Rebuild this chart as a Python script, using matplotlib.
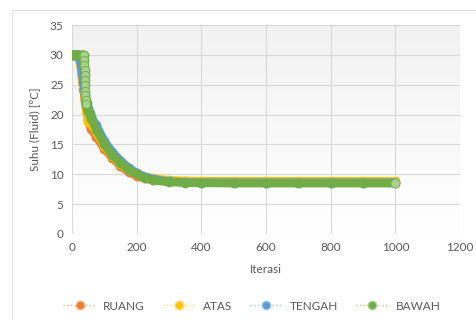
import numpy as np
import matplotlib
matplotlib.use("Agg")
import matplotlib.pyplot as plt
from matplotlib.patches import Rectangle

# iterations
iter_main = [0, 10, 20, 25, 30, 35, 40, 45, 50, 55, 60, 75, 100, 125, 150, 175, 200,
             225, 250, 300, 350, 400, 500, 600, 700, 800, 900, 1000]

ruang = [30, 30, 30, 28.8, 26.5, 24.3, 22.3, 20.5, 19.1, 18.3, 17.6, 16.3, 14.3, 12.7, 11.4,
         10.4, 9.7, 9.3, 9.0, 8.8, 8.75, 8.7, 8.7, 8.7, 8.7, 8.7, 8.7, 8.7]
atas = [30, 30, 30, 29.0, 27.0, 25.0, 22.8, 20.3, 18.8, 18.6, 18.4, 17.0, 14.8, 13.0, 11.7,
        10.7, 10.1, 9.6, 9.3, 9.0, 8.9, 8.85, 8.85, 8.85, 8.85, 8.85, 8.85, 8.85]
tengah = [30, 30, 30, 29.2, 27.5, 25.5, 23.5, 22.0, 21.1, 20.3, 19.6, 18.2, 15.6, 13.7, 12.3,
          11.1, 10.2, 9.6, 9.2, 8.8, 8.65, 8.6, 8.6, 8.6, 8.6, 8.6, 8.6, 8.6]

iter_bawah = [0, 5, 10, 15, 20, 25, 30, 35, 37, 38, 38.5, 39, 39.5, 40, 40.5, 41, 41.5, 42, 43,
              45, 50, 55, 60, 75, 100, 125, 150, 175, 200, 225, 250, 300, 350, 400, 500,
              600, 700, 800, 900, 1000]
bawah = [30, 30, 30, 30, 30, 30, 30, 30, 30, 29.2, 28.3, 27.5, 26.6, 25.8, 24.9, 24.0, 23.2,
         22.4, 21.7, 21.3, 20.6, 19.9, 19.3, 17.5, 15.0, 13.2, 11.9, 10.8, 10.0, 9.4, 9.0,
         8.7, 8.6, 8.55, 8.5, 8.5, 8.5, 8.5, 8.5, 8.5]

names = ["RUANG", "ATAS", "TENGAH", "BAWAH"]
colors = ["#ED7D31", "#FFC000", "#5B9BD5", "#70AD47"]
lights = ["#F4B183", "#FFD966", "#9DC3E6", "#A9D18E"]

plt.rcParams['font.family'] = ['Lato', 'DejaVu Sans']

fig = plt.figure(figsize=(4.77, 3.2), dpi=100)
ax = fig.add_axes([72/477, 1 - 234/320, 388/477, 209/320])

# chart frame
fig.patches.append(Rectangle((12/477, -0.1), 1.2, 1 - 10/320 + 0.1, transform=fig.transFigure,
                             fill=False, edgecolor="#e3e3e3", linewidth=0.8))

# soft gradient in the plot area
grad = np.linspace(1, 0, 100).reshape(-1, 1)
ax.imshow(grad, extent=[0, 1, 0, 1], transform=ax.transAxes, aspect='auto',
          cmap=matplotlib.colors.LinearSegmentedColormap.from_list("g", ["#ffffff", "#f2f2f2"]),
          zorder=0)

series = [(iter_main, ruang), (iter_main, atas), (iter_main, tengah), (iter_bawah, bawah)]
for (xs, ys), name, c, lc in zip(series, names, colors, lights):
    ax.plot(xs, ys, color=c, linewidth=6, solid_capstyle='round', solid_joinstyle='round',
            marker='o', markersize=6, markerfacecolor=c, markeredgecolor=c, zorder=2)

# the green points of the sharp drop show as separate, paler circles
xs, ys = np.array(iter_bawah), np.array(bawah)
drop = (xs >= 35) & (xs <= 43)
ax.plot(xs[drop], ys[drop], linestyle='none', marker='o', markersize=6,
        markerfacecolor=lights[3], markeredgecolor=colors[3], markeredgewidth=0.6, zorder=3)
ax.plot(xs[-1:], ys[-1:], linestyle='none', marker='o', markersize=5,
        markerfacecolor=lights[3], markeredgecolor=lights[3], zorder=3)

ax.set_xlim(0, 1200)
ax.set_ylim(0, 35)
ax.set_xticks(range(0, 1201, 200))
ax.set_yticks(range(0, 36, 5))
ax.grid(True, color="#d9d9d9", linewidth=0.8)
ax.set_axisbelow(True)
for s in ax.spines.values():
    s.set_visible(False)
ax.tick_params(length=0, labelsize=8.5, labelcolor="#595959", pad=6)
ax.set_xlabel("Iterasi", fontsize=8.5, color="#595959", labelpad=8)
ax.set_ylabel("Suhu (Fluid) [°C]", fontsize=8.5, color="#595959", labelpad=7)

handles = [plt.Line2D([], [], color=lc, linestyle=':', linewidth=1.0, marker='o', markersize=6,
                      markerfacecolor=c, markeredgecolor=lc) for c, lc in zip(colors, lights)]
fig.legend(handles, names, loc='center', bbox_to_anchor=(252/477, 1 - 306/320), ncol=4,
           frameon=False, fontsize=8.5, labelcolor="#595959", handlelength=2.8,
           columnspacing=1.5, handletextpad=0.6)

fig.savefig("out.png", dpi=100)
